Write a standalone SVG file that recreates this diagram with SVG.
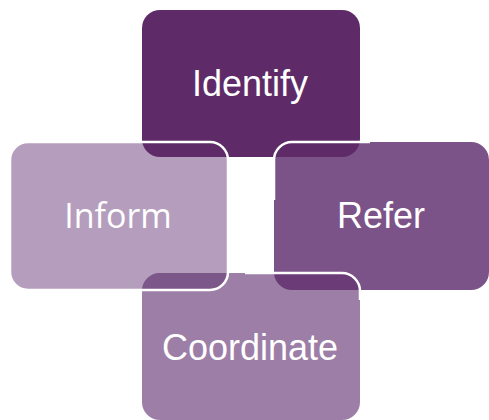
<svg xmlns="http://www.w3.org/2000/svg" width="489" height="420" viewBox="0 0 489 420">
  <style>
    .lbl { font-family: "Liberation Sans", Arial, sans-serif; font-size: 36px; fill: #ffffff; text-anchor: middle; }
    .lbl2 { font-family: "Open Sans", "Liberation Sans", sans-serif; font-size: 34px; fill: #ffffff; text-anchor: middle; }
    .edge { fill: none; stroke: #ffffff; stroke-width: 2.5; }
  </style>
  <defs>
    <clipPath id="clipInform"><rect x="10" y="142" width="218" height="148" rx="18"/></clipPath>
    <clipPath id="clipRefer"><rect x="274" y="142" width="215" height="148" rx="18"/></clipPath>
  </defs>
  <rect width="489" height="420" fill="#ffffff"/>

  <g id="inform">
    <rect x="10" y="142" width="218" height="148" rx="18" fill="#b59ebd"/>
    <text class="lbl2" x="118" y="228">Inform</text>
  </g>

  <g id="refer">
    <rect x="274" y="142" width="215" height="148" rx="18" fill="#7c5388"/>
    <text class="lbl" x="381" y="228">Refer</text>
  </g>

  <g id="coordinate">
    <rect x="142" y="273" width="218" height="147" rx="18" fill="#9d7ea7"/>
    <rect x="142" y="273" width="218" height="147" rx="18" fill="#7c5789" clip-path="url(#clipInform)"/>
    <rect x="142" y="273" width="218" height="147" rx="18" fill="#6b3b77" clip-path="url(#clipRefer)"/>
    <text class="lbl" x="250" y="360">Coordinate</text>
  </g>

  <g id="identify">
    <rect x="142" y="10" width="218" height="147" rx="18" fill="#5e2b68"/>
    <text class="lbl" x="250" y="96">Identify</text>
  </g>

  <g id="connectors">
    <rect class="edge" x="10" y="142" width="218" height="148" rx="18"/>
    <path class="edge" d="M274,200 V160 A18,18 0 0 1 292,142 H370"/>
    <path class="edge" d="M245,273 H342 A18,18 0 0 1 360,291 V300"/>
  </g>
</svg>
